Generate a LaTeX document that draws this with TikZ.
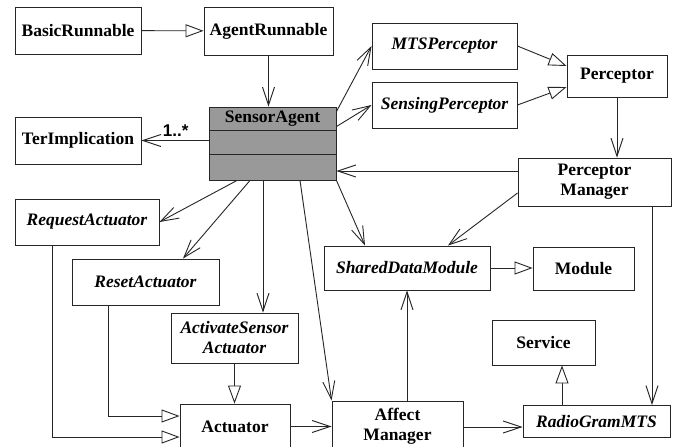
\documentclass[tikz,border=0pt]{standalone}
\usepackage{fontspec}
\setmainfont{Liberation Serif}
\newfontfamily\labelfont{Liberation Sans}
\usetikzlibrary{arrows.meta}

\tikzset{
  classbox/.style={draw=black!85, line width=0.9pt, fill=white, inner sep=0pt,
    align=center, font=\fontsize{17.5}{20}\selectfont\bfseries},
  abstractbox/.style={classbox, font=\fontsize{17.5}{20}\selectfont\bfseries\itshape},
  link/.style={draw=black!85, line width=0.9pt},
  assoc/.style={link, -{Straight Barb[length=18pt,width=12pt,line width=0.9pt]}},
  gen/.style={link, -{Triangle[open,length=18pt,width=13pt,fill=white,line width=0.9pt]}},
}

\begin{document}
\begin{tikzpicture}[x=1pt, y=-1pt]
  \clip (0,0) rectangle (675,447);
  \fill[white] (0,0) rectangle (675,447);

  % classes
  \node[classbox, minimum width=126pt, minimum height=47pt] (br) at (78,30.5) {BasicRunnable};
  \node[classbox, minimum width=129pt, minimum height=48pt] (ar) at (268.5,31) {AgentRunnable};
  \node[classbox, minimum width=126pt, minimum height=47pt] (ti) at (78,140.5) {TerImplication};

  \node[classbox, fill=black!40, minimum width=127pt, minimum height=73pt] (sa) at (272.5,143.5) {};
  \node[font=\fontsize{17.5}{20}\selectfont\bfseries, inner sep=0pt] (saname) at (272.5,119) {SensorAgent};
  \draw[link] ([yshift=-24pt]sa.north west) -- ([yshift=-24pt]sa.north east);
  \draw[link] ([yshift=-48pt]sa.north west) -- ([yshift=-48pt]sa.north east);

  \node[abstractbox, minimum width=145pt, minimum height=46pt] (mts) at (444.5,46) {MTSPerceptor};
  \node[abstractbox, minimum width=145pt, minimum height=46pt] (sp) at (444.5,105) {SensingPerceptor};
  \node[classbox, minimum width=100pt, minimum height=42pt] (pc) at (617,76) {Perceptor};
  \node[classbox, minimum width=153pt, minimum height=48pt] (pm) at (594.5,182) {Perceptor\\Manager};

  \node[abstractbox, minimum width=144pt, minimum height=46pt] (ra) at (87,222) {RequestActuator};
  \node[abstractbox, minimum width=147pt, minimum height=46pt] (rs) at (145.5,282) {ResetActuator};
  \node[abstractbox, minimum width=127pt, minimum height=50pt] (asa) at (234.5,338) {ActivateSensor\\Actuator};
  \node[classbox, minimum width=110pt, minimum height=45pt] (act) at (235,426.5) {Actuator};

  \node[abstractbox, minimum width=166pt, minimum height=44pt] (sdm) at (407,268) {SharedDataModule};
  \node[classbox, minimum width=101pt, minimum height=43pt] (mod) at (583.5,268.5) {Module};
  \node[classbox, minimum width=103pt, minimum height=45pt] (srv) at (543.5,342.5) {Service};
  \node[classbox, minimum width=131pt, minimum height=50pt] (am) at (397.5,426) {Affect\\Manager};
  \node[abstractbox, minimum width=147pt, minimum height=32pt] (rg) at (596.5,421.5) {RadioGramMTS};

  % generalisations
  \draw[gen] (br) -- (ar);
  \draw[gen] (mts.east) -- ([yshift=10pt]pc.west);
  \draw[gen] (sp.east) -- ([yshift=-11pt]pc.west);
  \draw[gen] (sdm.east) -- (sdm.east -| mod.west);
  \draw[gen] (asa.south) -- (asa.south |- act.north);
  \draw[gen] ([xshift=-35pt]ra.south) |- ([yshift=-10.5pt]act.west);
  \draw[gen] ([xshift=-37.5pt]rs.south) |- ([yshift=10.5pt]act.west);
  \coordinate (srvfoot) at ([xshift=18.5pt]srv.south);
  \draw[gen] (srvfoot |- rg.north) -- (srvfoot);

  % associations
  \draw[assoc] (ar.south) -- (ar.south |- sa.north);
  \draw[assoc] (ti.east -| sa.west) -- node[pos=0.49, above=4pt, inner sep=0pt,
      font=\labelfont\fontsize{17}{20}\selectfont\bfseries] (mult) {1..*} (ti.east);
  \draw[assoc] ([yshift=-5pt]sa.north east) -- (mts.west);
  \draw[assoc] ([yshift=-20pt]sa.north east) -- (sp.west);
  \draw[assoc] (pc.south) -- (pc.south |- pm.north);
  \coordinate (pmback) at ([yshift=11pt]pm.west);
  \draw[assoc] (pmback) -- (pmback -| sa.east);
  \draw[assoc] ([yshift=-11pt]pm.west) -- ([xshift=41pt]sdm.north);
  \coordinate (pmdown) at ([xshift=57.5pt]pm.south);
  \draw[assoc] (pmdown) -- (pmdown |- rg.north);
  \draw[assoc] ([xshift=-35.5pt]sa.south) -- (ra.east);
  \draw[assoc] ([xshift=-22.5pt]sa.south) -- ([xshift=37.5pt]rs.north);
  \coordinate (sadown) at ([xshift=-9.5pt]sa.south);
  \draw[assoc] (sadown) -- (sadown |- asa.north);
  \draw[assoc] ([xshift=27.5pt]sa.south) -- (am.north west);
  \draw[assoc] (sa.south east) -- ([xshift=-42pt]sdm.north);
  \draw[assoc] (act.east) -- (act.east -| am.west);
  \draw[assoc] (sdm.south |- am.north) -- (sdm.south);
  \coordinate (amout) at ([yshift=-1pt]am.east);
  \draw[assoc] (amout) -- (amout -| rg.west);
\end{tikzpicture}
\end{document}
